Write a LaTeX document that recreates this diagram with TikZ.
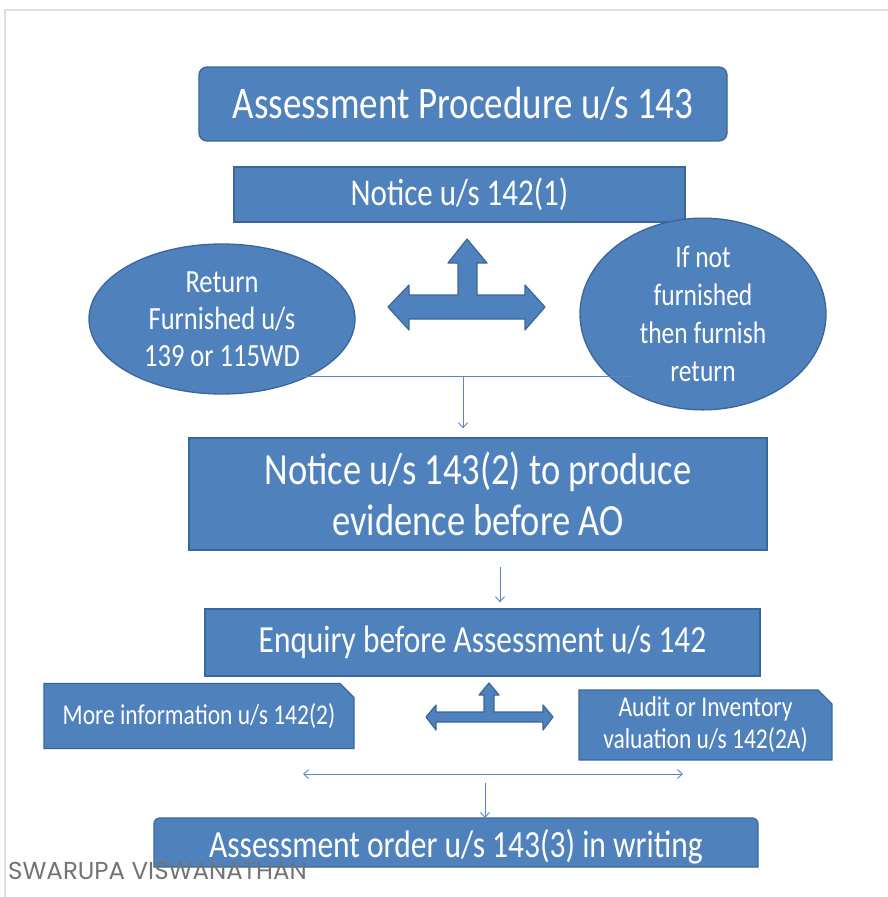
\documentclass[tikz,border=0pt]{standalone}
\usepackage{fontspec}
\usepackage{graphicx}
\setmainfont{Carlito}
\newfontfamily\sigfont{Poppins}
\usetikzlibrary{shapes.geometric,shapes.misc,arrows.meta}
\definecolor{boxblue}{HTML}{4F81BD}
\definecolor{boxedge}{HTML}{3A679A}
\definecolor{linkblue}{HTML}{5B86C0}
\newcommand\tallt[1]{\scalebox{1}[1.22]{#1}}
\begin{document}
\begin{tikzpicture}[x=1pt,y=-1pt,
  box/.style={draw=boxedge,fill=boxblue,line width=1.3pt,text=white,inner sep=0pt,align=center},
  oval/.style={box,ellipse},
  snip/.style={box,chamfered rectangle,chamfered rectangle corners=north east,chamfered rectangle xsep=7pt,chamfered rectangle ysep=7pt},
  tarrow/.style={draw=boxedge,fill=boxblue,line width=1.2pt,line join=round},
  conn/.style={draw=linkblue,line width=0.9pt},
  tip/.style={-{Straight Barb[length=5pt,width=9pt]}},
  both/.style={{Straight Barb[length=5pt,width=9pt]}-{Straight Barb[length=5pt,width=9pt]}}
]
\useasboundingbox (0,0) rectangle (888,897);
\fill[white] (0,0) rectangle (888,897);
\draw[black!12,line width=1.2pt] (5,897) -- (5,10) -- (888,10);

% boxes
\node[box,rounded corners=8pt,minimum width=528pt,minimum height=74pt,font=\fontsize{37}{40}\selectfont] (title) at (463,104) {\tallt{Assessment Procedure u/s 143}};
\node[box,minimum width=451pt,minimum height=55pt,font=\fontsize{31}{33}\selectfont] (n1) at (459.5,194.5) {\tallt{Notice u/s 142(1)}};

\node[oval,minimum width=266pt,minimum height=150pt,font=\fontsize{26.5}{37}\selectfont] (ret) at (222,319) {\tallt{Return}\\\tallt{Furnished u/s}\\\tallt{139 or 115WD}};
\node[oval,minimum width=246pt,minimum height=146pt,font=\fontsize{25.5}{38}\selectfont] (nf) at (703,314) {\tallt{If not}\\\tallt{furnished}\\\tallt{then furnish}\\\tallt{return}};

\node[box,minimum width=578pt,minimum height=112pt,font=\fontsize{36.5}{51}\selectfont] (n2) at (478,494) {\tallt{Notice u/s 143(2) to produce}\\\tallt{evidence before AO}};
\node[box,minimum width=555pt,minimum height=67pt,font=\fontsize{31.4}{33}\selectfont] (enq) at (482.5,642.5) {\tallt{Enquiry before Assessment u/s 142}};

\node[snip,minimum width=310pt,minimum height=65pt,font=\fontsize{23.5}{24}\selectfont] (more) at (199,716) {\tallt{More information u/s 142(2)}};
\node[snip,minimum width=253pt,minimum height=66pt,font=\fontsize{23.5}{32}\selectfont] (audit) at (705.5,725) {\tallt{Audit or Inventory}\\\tallt{valuation u/s 142(2A)}};

% bottom box with rounded top corners
\draw[draw=boxedge,fill=boxblue,line width=1.3pt] (154,867) [rounded corners=6pt] -- (154,818) -- (758,818) -- (758,840) [sharp corners] -- (758,867) -- cycle;
\node[text=white,inner sep=0pt,minimum width=604pt,minimum height=49pt,font=\fontsize{31.5}{35}\selectfont] (order) at (456,847) {\tallt{Assessment order u/s 143(3) in writing}};

% T-shaped block arrows
\path[tarrow] (467,239) -- (487,263) -- (477,263) -- (477,295) -- (525,295) -- (525,285) -- (545,307) -- (525,330) -- (525,319) -- (409,319) -- (409,330) -- (388,307) -- (409,285) -- (409,295) -- (458,295) -- (458,263) -- (448,263) -- cycle;
\path[tarrow] (489,683) -- (499,695) -- (494,695) -- (494,712) -- (543,712) -- (543,705) -- (553,717) -- (543,730) -- (543,722) -- (436,722) -- (436,730) -- (426,717) -- (436,705) -- (436,712) -- (484,712) -- (484,695) -- (479,695) -- cycle;

% connectors
\coordinate (jl) at (297,376);
\coordinate (jr) at (633,376);
\coordinate (jm) at (463,376);
\draw[conn] (jl) -- (jr);
\draw[conn,tip,shorten >=9pt] (jm) -- (jm |- n2.north);

\coordinate (x500) at (500,0);
\draw[conn,tip,shorten <=16pt,shorten >=6pt] (n2.south -| x500) -- (enq.north -| x500);

\coordinate (dl) at (303,774);
\coordinate (dr) at (683,774);
\coordinate (dm) at (485,774);
\draw[conn,both] (dl) -- (dr);
\draw[conn,tip,shorten <=9pt] (dm) -- (485,818);

% signature
\node[anchor=base west,inner sep=0pt,text=black!55,font=\sigfont\fontsize{24.5}{26}\selectfont] (sig) at (8,879) {SWARUPA VISWANATHAN};
\end{tikzpicture}
\end{document}
